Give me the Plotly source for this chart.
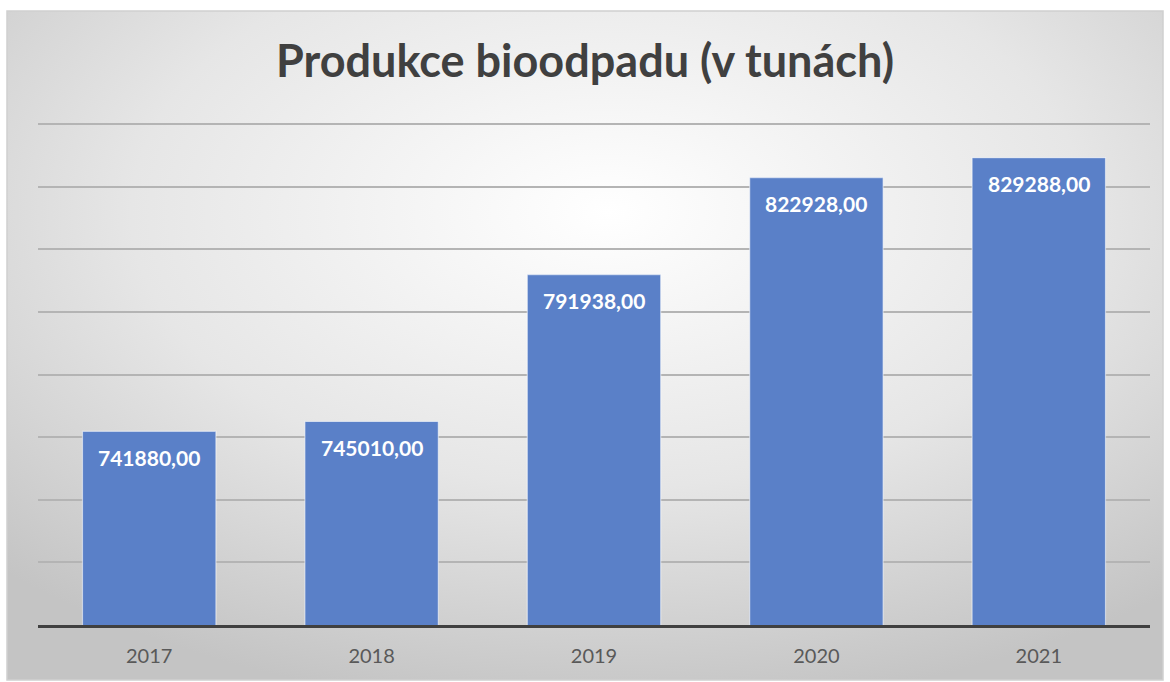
import base64
import plotly.graph_objects as go

# data
roky = ["2017", "2018", "2019", "2020", "2021"]
produkce = [741880.00, 745010.00, 791938.00, 822928.00, 829288.00]
popisky = ["741880,00", "745010,00", "791938,00", "822928,00", "829288,00"]
titulek = "Produkce bioodpadu (v tunách)"

W, H = 1170, 682
L, R, T, B = 38, 20, 121, 57  # plot area margins (px)
pw, ph = W - L - R, H - T - B

def px2paper(x, y):
    "pixel coords -> paper coords"
    return (x - L) / pw, (H - B - y) / ph

# chart area with radial gradient (Excel-like)
svg = """<svg xmlns='http://www.w3.org/2000/svg' width='1156' height='669' preserveAspectRatio='none'>
<defs><radialGradient id='g' cx='52%' cy='30%' r='75%' fx='52%' fy='30%'>
<stop offset='0' stop-color='#ffffff'/><stop offset='0.55' stop-color='#e6e6e6'/>
<stop offset='1' stop-color='#c4c4c4'/></radialGradient></defs>
<rect width='1156' height='669' fill='url(#g)'/></svg>"""
src = "data:image/svg+xml;base64," + base64.b64encode(svg.encode()).decode()

x0, y0 = px2paper(7, 11)
x1, y1 = px2paper(1163, 680)

fig = go.Figure()
fig.add_trace(go.Bar(x=roky, y=produkce, marker=dict(color="#5a80c8",
                     line=dict(color="rgba(255,255,255,0.55)", width=1.2)),
                     hoverinfo="skip"))

# data labels (x as category index: numeric-looking strings would be read as indices)
for i, (v, t) in enumerate(zip(produkce, popisky)):
    fig.add_annotation(x=i, y=v, text="<b>%s</b>" % t, showarrow=False,
                       yanchor="middle", yshift=-26,
                       font=dict(family="Lato", size=21, color="white"))

fig.add_layout_image(dict(source=src, xref="paper", yref="paper", x=x0, y=y0,
                          sizex=x1 - x0, sizey=y0 - y1, sizing="stretch",
                          xanchor="left", yanchor="top", layer="below"))
fig.add_shape(type="rect", xref="paper", yref="paper", x0=x0, y0=y1, x1=x1, y1=y0,
              line=dict(color="#d0d0d0", width=1.5), layer="below")

fig.update_layout(
    width=W, height=H, margin=dict(l=L, r=R, t=T, b=B, autoexpand=False),
    paper_bgcolor="white", plot_bgcolor="rgba(0,0,0,0)",
    showlegend=False, bargap=0.4,
    title=dict(text="<b>%s</b>" % titulek, x=0.5, xanchor="center",
               y=1 - 61 / H, yanchor="middle",
               font=dict(family="Lato", size=45, color="#404040")),
    xaxis=dict(type="category", automargin=False, range=[-0.5, 4.5],
               showline=True, linecolor="#404040", linewidth=3, showgrid=False,
               ticks="outside", ticklen=11, tickcolor="rgba(0,0,0,0)",
               tickfont=dict(family="Lato", size=20, color="#595959")),
    yaxis=dict(range=[680000, 841000], dtick=20000, showticklabels=False,
               automargin=False,
               showgrid=True, gridcolor="#b4b4b4", gridwidth=2, zeroline=False),
)

fig.write_html("out.html", config={"displayModeBar": False},
               post_script="document.body.style.margin='0';")
